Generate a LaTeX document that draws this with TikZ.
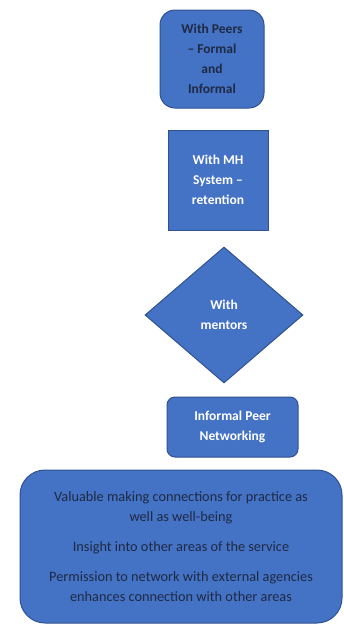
\documentclass[tikz,border=0pt]{standalone}
\usepackage{fontspec}
\setmainfont{Carlito}
\usetikzlibrary{shapes.geometric}
\definecolor{boxfill}{HTML}{4472C4}
\definecolor{boxedge}{HTML}{2F528F}
\definecolor{darktext}{HTML}{1F2A44}
\begin{document}
\begin{tikzpicture}[x=1pt,y=-1pt,
  base/.style={draw=boxedge,fill=boxfill,line width=1pt,align=center,inner sep=0pt},
  bold/.style={font=\fontsize{13.5}{20}\selectfont\bfseries}]
\useasboundingbox (0,0) rectangle (343,627);
\node[base,bold,rounded corners=15pt,minimum width=104pt,minimum height=98pt,text=darktext] (peers) at (212,59) {With Peers\\– Formal\\and\\Informal};
\node[base,bold,minimum width=100pt,minimum height=100pt,text=white] (mh) at (218,180) {With MH\\System –\\retention};
\node[base,bold,diamond,minimum width=158pt,minimum height=136pt,text=white] (mentors) at (224,315) {With\\mentors};
\node[base,bold,rounded corners=8pt,minimum width=131pt,minimum height=60pt,text=white] (informal) at (232.5,427) {Informal Peer\\Networking};
\node[base,rounded corners=25pt,minimum width=322pt,minimum height=153pt,text=darktext,font=\fontsize{14.3}{20}\selectfont] (bottom) at (181,546.5) {Valuable making connections for practice as\\well as well-being\\[10pt]Insight into other areas of the service\\[10pt]Permission to network with external agencies\\enhances connection with other areas};
\end{tikzpicture}
\end{document}
